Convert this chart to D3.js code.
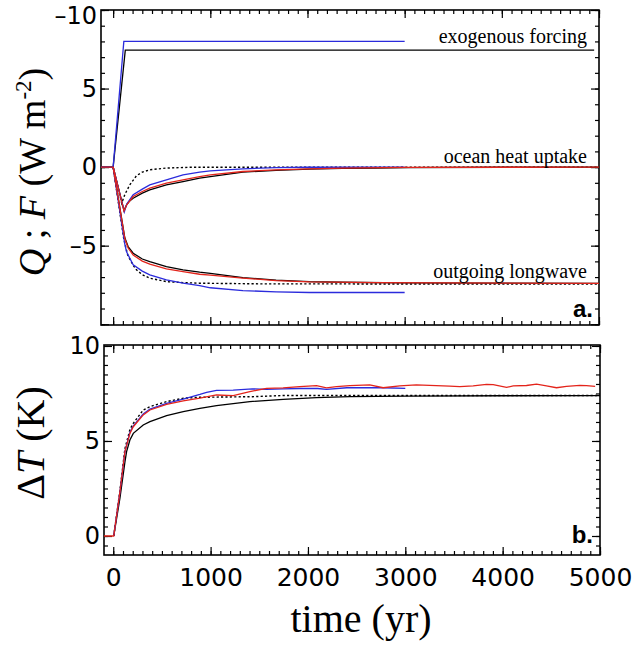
<!DOCTYPE html>
<html lang="en">
<head>
<meta charset="UTF-8">
<title>Forcing, heat uptake and warming</title>
<script src="https://cdn.jsdelivr.net/npm/d3@7/dist/d3.min.js"></script>
<style>
  body { margin: 0; background: #fff; }
  svg { display: block; }
  .tick text { font-family: "DejaVu Sans", sans-serif; fill: #000; }
  .tick line { stroke: #000; stroke-width: 1.2; }
  .serif { font-family: "Liberation Serif", "Times New Roman", serif; fill: #000; }
</style>
</head>
<body>
<div id="chart"></div>
<script>
// ---- data: [year, W m-2] or [year, K] ----
// panel a: exogenous forcing
const forcingBlack = [[-125,0],[0,0],[125,7.45],[4950,7.45]];
const forcingBlue  = [[-125,0],[0,0],[110,8.0],[3000,8.0]];

// panel a: ocean heat uptake
const heatBlack  = [[-125,0],[0,0],[112,-2.75],[140,-2.38],[170,-2.15],[206,-1.98],[300,-1.66],[377,-1.45],[548,-1.13],[719,-0.92],[890,-0.7],[1000,-0.6],[1335,-0.32],[1677,-0.21],[2019,-0.13],[2361,-0.08],[2703,-0.06],[3045,-0.03],[4000,-0.01],[5000,0]];
const heatRed    = [[-125,0],[0,0],[112,-2.8],[140,-2.4],[206,-1.87],[300,-1.55],[377,-1.34],[548,-1.02],[719,-0.81],[890,-0.6],[1000,-0.5],[1335,-0.28],[1677,-0.17],[2019,-0.11],[2361,-0.06],[3000,-0.02],[5000,0]];
const heatBlue   = [[0,0],[115,-2.85],[140,-2.35],[206,-1.76],[300,-1.4],[377,-1.13],[548,-0.81],[719,-0.49],[890,-0.32],[1000,-0.24],[1335,-0.11],[1677,-0.03],[2000,-0.01],[3000,0]];
const heatDashed = [[0,0],[88,-2.3],[120,-1.75],[171,-1.13],[240,-0.55],[300,-0.32],[377,-0.17],[548,-0.06],[800,-0.01],[5000,0]];

// panel a: outgoing longwave
const lwBlack  = [[0,0],[120,-4.5],[154,-5.06],[206,-5.48],[300,-5.85],[377,-6.01],[548,-6.33],[719,-6.54],[890,-6.69],[1000,-6.76],[1335,-7.03],[1677,-7.2],[2019,-7.29],[2361,-7.33],[3000,-7.37],[4000,-7.39],[5000,-7.4]];
const lwRed    = [[0,0],[120,-4.55],[154,-5.15],[206,-5.59],[300,-5.98],[377,-6.18],[548,-6.48],[719,-6.65],[890,-6.82],[1000,-6.88],[1335,-7.07],[1677,-7.22],[2019,-7.3],[2700,-7.35],[5000,-7.4]];
const lwBlue   = [[0,0],[120,-4.9],[137,-5.38],[206,-6.22],[300,-6.62],[377,-6.86],[548,-7.18],[719,-7.39],[890,-7.54],[1000,-7.68],[1335,-7.86],[1677,-7.94],[2019,-7.98],[3000,-7.98]];
const lwDashed = [[0,0],[110,-4.6],[150,-5.6],[206,-6.25],[240,-6.54],[300,-6.85],[377,-7.07],[548,-7.29],[719,-7.35],[890,-7.39],[1500,-7.43],[5000,-7.45]];

// panel b: warming
const tempBlack  = [[5,0],[69,2.0],[120,3.9],[137,4.44],[171,5.05],[206,5.4],[308,5.84],[377,6.02],[548,6.33],[719,6.54],[890,6.72],[1061,6.86],[1232,6.97],[1403,7.07],[1745,7.19],[2088,7.28],[2430,7.33],[3000,7.36],[4000,7.38],[5000,7.39]];
const tempDashed = [[5,0],[69,2.4],[120,4.6],[171,5.6],[206,5.93],[308,6.63],[377,6.81],[548,7.07],[719,7.25],[890,7.3],[1430,7.33],[1745,7.39],[5000,7.39]];
const tempBlue   = [[5,0],[69,2.33],[120,4.44],[171,5.45],[206,5.8],[308,6.42],[377,6.68],[548,6.98],[719,7.2],[890,7.45],[959,7.56],[1061,7.66],[1232,7.68],[1430,7.74],[1574,7.72],[1745,7.74],[1916,7.76],[2100,7.76],[2190,7.72],[2400,7.8],[2772,7.8],[3000,7.77]];
const tempRed    = [[-95,0],[5,0],[69,2.33],[120,4.44],[171,5.4],[206,5.75],[308,6.37],[377,6.63],[548,6.93],[719,7.11],[890,7.25],[1061,7.42],[1232,7.39],[1403,7.6],[1574,7.77],[1745,7.79],[1916,7.86],[2088,7.91],[2190,7.79],[2293,7.86],[2430,7.91],[2635,7.95],[2772,7.8],[2943,7.9],[3113,7.95],[3455,7.89],[3560,7.86],[3697,7.9],[3834,7.98],[3903,7.96],[4040,7.82],[4108,7.9],[4245,7.92],[4348,7.99],[4450,7.9],[4553,7.8],[4656,7.87],[4793,7.93],[4861,7.91],[4950,7.87]];

// ticks
const xMajor = [0, 1000, 2000, 3000, 4000, 5000];
const xMinor = d3.range(0, 5001, 100);
const topYMajor = [10, 5, 0, -5, -10];
const topYLabels = ["\u201310", "5", "0", "\u20135", ""];
const topYMinor = d3.range(-10, 10.5, 1);
const botYMajor = [10, 5, 0];
const botYLabels = ["10", "5", "0"];
const botYMinor = d3.range(-0.5, 10.1, 0.5);

const labelsA = [
  { text: "exogenous forcing", y: 43 },
  { text: "ocean heat uptake", y: 163 },
  { text: "outgoing longwave", y: 278 }
];

const BLUE = "#2b2bdc", RED = "#e3241b";

const svg = d3.select("#chart").append("svg")
    .attr("width", 635).attr("height", 647);

function panel(box, xDomain, yDomain, yMajor, yLabels, yMinor, showX) {
  const x = d3.scaleLinear().domain(xDomain).range([box.left, box.right]);
  const y = d3.scaleLinear().domain(yDomain).range([box.bottom, box.top]);
  const g = svg.append("g");

  const clipId = "clip" + Math.round(box.top);
  g.append("clipPath").attr("id", clipId).append("rect")
      .attr("x", box.left).attr("y", box.top)
      .attr("width", box.right - box.left).attr("height", box.bottom - box.top);

  const axes = [
    [d3.axisBottom(x).tickValues(xMinor).tickSize(-4).tickFormat(""), `translate(0,${box.bottom})`, ""],
    [d3.axisBottom(x).tickValues(xMajor).tickSize(-8).tickPadding(13)
        .tickFormat(showX ? d3.format("d") : ""), `translate(0,${box.bottom})`, "xlab"],
    [d3.axisTop(x).tickValues(xMinor).tickSize(-4).tickFormat(""), `translate(0,${box.top})`, ""],
    [d3.axisTop(x).tickValues(xMajor).tickSize(-8).tickFormat(""), `translate(0,${box.top})`, ""],
    [d3.axisLeft(y).tickValues(yMinor).tickSize(-4).tickFormat(""), `translate(${box.left},0)`, ""],
    [d3.axisLeft(y).tickValues(yMajor).tickSize(-8).tickPadding(4)
        .tickFormat((d, i) => yLabels[i]), `translate(${box.left},0)`, "ylab"],
    [d3.axisRight(y).tickValues(yMinor).tickSize(-4).tickFormat(""), `translate(${box.right},0)`, ""],
    [d3.axisRight(y).tickValues(yMajor).tickSize(-8).tickFormat(""), `translate(${box.right},0)`, ""]
  ];
  axes.forEach(([ax, tr, cls]) => {
    const a = g.append("g").attr("class", cls).attr("transform", tr).call(ax);
    a.select(".domain").remove();
  });
  g.selectAll(".tick text").attr("font-size", null).style("font-size", "24px");
  g.selectAll(".xlab .tick text").style("font-size", "25px");

  g.append("rect")
      .attr("x", box.left).attr("y", box.top)
      .attr("width", box.right - box.left).attr("height", box.bottom - box.top)
      .attr("fill", "none").attr("stroke", "#000").attr("stroke-width", 1.6);

  const line = d3.line().x(d => x(d[0])).y(d => y(d[1]));
  const plot = g.append("g").attr("clip-path", `url(#${clipId})`);
  return { g, x, y, plot, line };
}

function draw(p, data, color, dashed) {
  p.plot.append("path").datum(data)
      .attr("d", p.line)
      .attr("fill", "none")
      .attr("stroke", color)
      .attr("stroke-width", dashed ? 1.4 : 1.3)
      .attr("stroke-dasharray", dashed ? "2.2,2.2" : null);
}

// ---- panel a ----
const a = panel({ left: 101, right: 599, top: 10, bottom: 325 },
  [-125, 5000], [-10.05, 10], topYMajor, topYLabels, topYMinor, false);
// top label sits just inside the page, as in the original
a.g.selectAll(".ylab .tick text").filter(d => d === 10).attr("y", 6);

draw(a, forcingBlack, "#000");
draw(a, heatDashed, "#000", true);
draw(a, lwDashed, "#000", true);
draw(a, heatBlack, "#000");
draw(a, lwBlack, "#000");
draw(a, forcingBlue, BLUE);
draw(a, heatBlue, BLUE);
draw(a, lwBlue, BLUE);
draw(a, heatRed, RED);
draw(a, lwRed, RED);

svg.selectAll(".labA").data(labelsA).enter().append("text")
    .attr("class", "serif")
    .attr("x", 587).attr("y", d => d.y)
    .attr("text-anchor", "end")
    .style("font-size", "20px")
    .text(d => d.text);

// ---- panel b ----
const b = panel({ left: 104, right: 600, top: 345, bottom: 555 },
  [-95, 5000], [-1, 10.05], botYMajor, botYLabels, botYMinor, true);
draw(b, tempBlack, "#000");
draw(b, tempDashed, "#000", true);
draw(b, tempBlue, BLUE);
draw(b, tempRed, RED);

// panel letters
[["a.", 317], ["b.", 543]].forEach(([t, yy]) => {
  svg.append("text").attr("x", 593).attr("y", yy)
      .attr("text-anchor", "end")
      .style("font-family", "'Liberation Sans', Arial, sans-serif")
      .style("font-weight", "bold").style("font-size", "24px")
      .text(t);
});

// axis titles
svg.append("text").attr("class", "serif")
    .attr("x", 361).attr("y", 632).attr("text-anchor", "middle")
    .style("font-size", "40px").text("time (yr)");

const yt = svg.append("text").attr("class", "serif")
    .attr("transform", "translate(45,172) rotate(-90)")
    .attr("text-anchor", "middle").style("font-size", "38px");
yt.append("tspan").style("font-style", "italic").text("Q");
yt.append("tspan").text(" ; ");
yt.append("tspan").style("font-style", "italic").text("F");
yt.append("tspan").text(" (W m");
yt.append("tspan").attr("dy", -14).style("font-size", "23px").text("-2");
yt.append("tspan").attr("dy", 14).text(")");

const bt = svg.append("text").attr("class", "serif")
    .attr("transform", "translate(44,443) rotate(-90)")
    .attr("text-anchor", "middle").style("font-size", "40px");
bt.append("tspan").text("\u0394");
bt.append("tspan").style("font-style", "italic").text("T");
bt.append("tspan").text(" (K)");
</script>
</body>
</html>
